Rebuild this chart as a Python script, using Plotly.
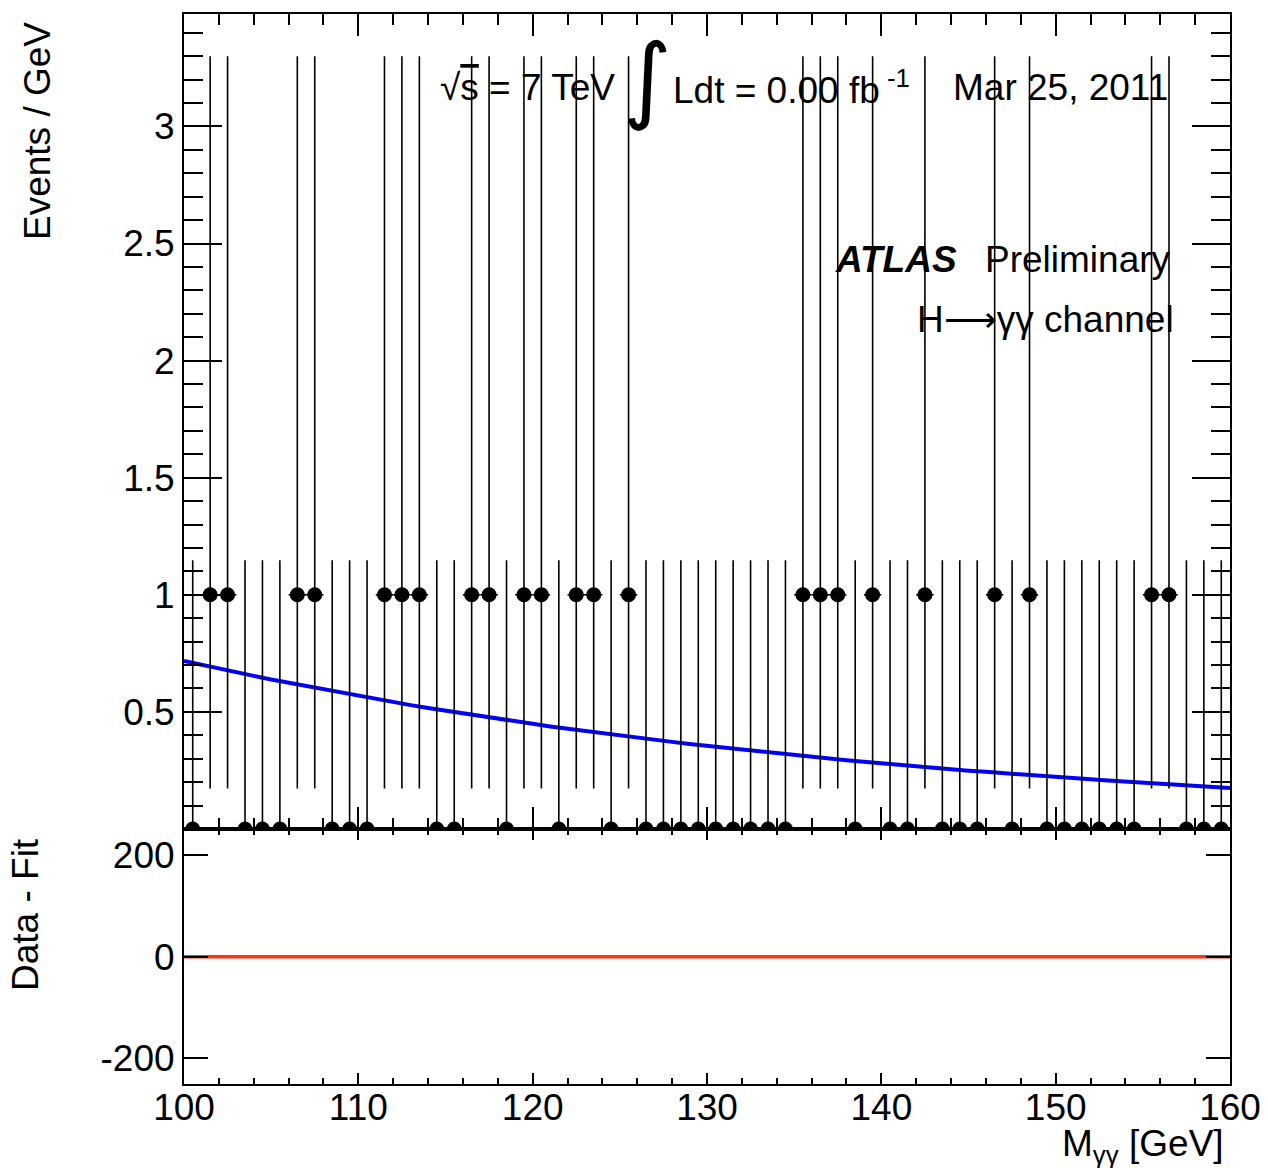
import numpy as np
import plotly.graph_objects as go

# ---- data ----
bin_centers = [100.5 + i for i in range(60)]
counts = [0, 1, 1, 0, 0, 0, 1, 1, 0, 0,
          0, 1, 1, 1, 0, 0, 1, 1, 0, 1,
          1, 0, 1, 1, 0, 1, 0, 0, 0, 0,
          0, 0, 0, 0, 0, 1, 1, 1, 0, 1,
          0, 0, 1, 0, 0, 0, 1, 0, 1, 0,
          0, 0, 0, 0, 0, 1, 1, 0, 0, 0]
# asymmetric Poisson errors (per count value)
err_hi_by_count = {0: 1.148, 1: 2.30}
err_lo_by_count = {0: 0.0, 1: 0.827}
err_hi = [err_hi_by_count[c] for c in counts]
err_lo = [err_lo_by_count[c] for c in counts]

fit_x = list(range(100, 161))
fit_y = [0.718, 0.701, 0.685, 0.669, 0.654, 0.638, 0.624, 0.609, 0.595, 0.581,
         0.568, 0.554, 0.542, 0.529, 0.517, 0.505, 0.493, 0.482, 0.470, 0.459,
         0.449, 0.438, 0.428, 0.418, 0.408, 0.399, 0.390, 0.381, 0.372, 0.363,
         0.355, 0.347, 0.338, 0.331, 0.323, 0.315, 0.308, 0.301, 0.294, 0.287,
         0.280, 0.274, 0.268, 0.261, 0.255, 0.249, 0.244, 0.238, 0.232, 0.227,
         0.222, 0.217, 0.212, 0.207, 0.202, 0.197, 0.193, 0.188, 0.184, 0.179,
         0.175]

resid_x = [100, 160]
resid_y = [0, 0]

y_ticks = [0.5, 1, 1.5, 2, 2.5, 3]
y_ticktext = ["0.5", "1", "1.5", "2", "2.5", "3"]
y2_ticks = [-200, 0, 200]
y2_ticktext = ["-200", "0", "200"]
x_ticks = [100, 110, 120, 130, 140, 150, 160]

# ---- layout geometry ----
W, H = 1268, 1168
L, R, T, B = 184, 1230, 14, 1084
split = 829
FONT = "Liberation Sans, Arial, Helvetica, sans-serif"
FS = 37


def px(x):
    return (x - L) / (R - L)


def py(y):
    return (B - y) / (B - T)


fig = go.Figure()

fig.add_trace(go.Scatter(
    x=fit_x, y=fit_y, mode="lines",
    line=dict(color="#0000ff", width=4),
    xaxis="x", yaxis="y", showlegend=False))

fig.add_trace(go.Scatter(
    x=bin_centers, y=counts, mode="markers",
    marker=dict(color="black", size=15, symbol="circle"),
    error_y=dict(type="data", symmetric=False, array=err_hi, arrayminus=err_lo,
                 color="black", thickness=1.6, width=0),
    error_x=dict(type="constant", value=0.5, color="black", thickness=1.6, width=0),
    xaxis="x", yaxis="y", showlegend=False))

fig.add_trace(go.Scatter(
    x=resid_x, y=resid_y, mode="lines",
    line=dict(color="#ff3311", width=3.5),
    xaxis="x2", yaxis="y2", showlegend=False))

dom_split = py(split)

axis_common = dict(showline=True, linecolor="black", linewidth=2, mirror="allticks",
                   ticks="inside", tickcolor="black", tickwidth=1.6,
                   showgrid=False, zeroline=False, automargin=False,
                   tickfont=dict(family=FONT, size=FS, color="black"))

fig.update_layout(
    width=W, height=H,
    margin=dict(l=L, r=W - R, t=T, b=H - B, autoexpand=False),
    paper_bgcolor="white", plot_bgcolor="white",
    font=dict(family=FONT, size=FS, color="black"),
    xaxis=dict(domain=[0, 1], anchor="y", range=[100, 160], tickvals=x_ticks,
               ticklen=22, showticklabels=False,
               minor=dict(dtick=2, ticklen=11, ticks="inside", tickcolor="black", tickwidth=1.6),
               **axis_common),
    yaxis=dict(domain=[dom_split, 1], anchor="x", range=[0, 3.48],
               tickvals=y_ticks, ticktext=y_ticktext, ticklen=38,
               minor=dict(tick0=0, dtick=0.1, ticklen=19, ticks="inside", tickcolor="black", tickwidth=1.6),
               **axis_common),
    xaxis2=dict(domain=[0, 1], anchor="y2", range=[100, 160], tickvals=x_ticks,
                ticklen=11, showticklabels=True, ticklabelstandoff=-10,
                minor=dict(dtick=2, ticklen=6, ticks="inside", tickcolor="black", tickwidth=1.6),
                **axis_common),
    yaxis2=dict(domain=[0, dom_split], anchor="x2", range=[-251, 252],
                tickvals=y2_ticks, ticktext=y2_ticktext, ticklen=24,
                **axis_common),
)

ann = []


def add_text(text, x, y, xanchor="left", yanchor="middle", size=FS, angle=0, family=FONT):
    ann.append(dict(text=text, xref="paper", yref="paper", x=px(x), y=py(y),
                    xanchor=xanchor, yanchor=yanchor, showarrow=False, textangle=angle,
                    font=dict(family=family, size=size, color="black")))


add_text("√<span style='text-decoration:overline'>s</span> = 7 TeV", 438, 87)
add_text("∫", 647, 78, xanchor="center", size=94, family="DejaVu Sans")
add_text("Ldt = 0.00 fb<sup> -1</sup>", 671, 87)
add_text("Mar 25, 2011", 951, 87)
add_text("<b><i>ATLAS</i></b>", 833, 259)
add_text("Preliminary", 983, 259)
add_text("H⟶γγ channel", 1176, 319, xanchor="right")
add_text("M<sub>γγ</sub> [GeV]", 1226, 1146, xanchor="right")
add_text("Events / GeV", 38, 20, xanchor="center", yanchor="top", angle=-90)
add_text("Data - Fit", 25, 915, xanchor="center", angle=-90)

fig.update_layout(annotations=ann)

fig.write_html("out.html", config={"displayModeBar": False},
               post_script="document.body.style.margin='0px';document.body.style.overflow='hidden';")
